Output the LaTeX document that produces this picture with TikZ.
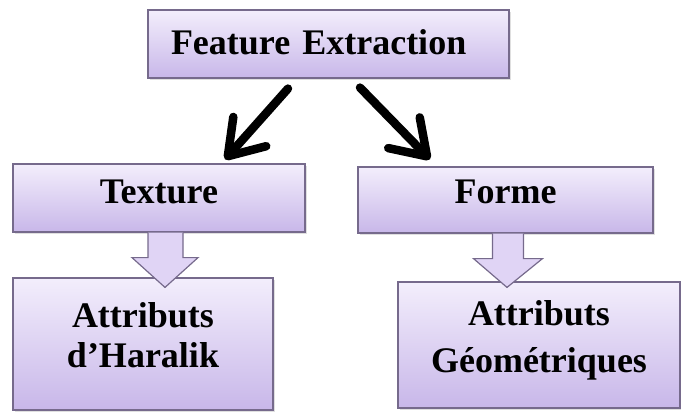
\documentclass[tikz,border=0pt]{standalone}
\usepackage{fontspec}
\setmainfont{Liberation Serif}
\usepackage{tikz}
\usetikzlibrary{arrows.meta,calc,shadows}
\definecolor{boxtop}{RGB}{243,238,252}
\definecolor{boxbottom}{RGB}{200,183,233}
\definecolor{boxline}{RGB}{118,106,140}
\definecolor{arrowfill}{RGB}{224,212,245}
\tikzstyle{box} = [rectangle, draw=boxline, line width=1.2pt, top color=boxtop, bottom color=boxbottom, inner sep=0pt, align=center, font=\bfseries\fontsize{36}{40}\selectfont, drop shadow={shadow xshift=1.5pt, shadow yshift=-2pt, opacity=0.25}]
\tikzstyle{bigarrow} = [black, line width=8.5pt, line cap=round, -{Straight Barb[round, length=33pt, width=44pt]}]
\tikzstyle{hollow} = [draw=boxline, line width=1.2pt, fill=arrowfill, line join=miter]

\begin{document}
\begin{tikzpicture}[x=1pt, y=-1pt]
\useasboundingbox (0,0) rectangle (681,412);

% boxes
\node[box, minimum width=361pt, minimum height=68pt, text width=315pt, align=left, text height=25pt, text depth=4pt] (feat) at (328.5,44) {Feature Extraction};
\node[box, minimum width=292pt, minimum height=68pt, text height=25pt, text depth=15pt] (texture) at (159,198) {Texture};
\node[box, minimum width=295pt, minimum height=66pt, text height=25pt, text depth=19pt] (forme) at (505.5,200) {Forme};
\node[box, minimum width=260pt, minimum height=132pt, text height=65pt, text depth=19pt] (haralik) at (143,344) {Attributs\\d'Haralik};
\node[box, minimum width=282pt, minimum height=126pt, text height=72pt, text depth=18pt] (geo) at (539,345) {Attributs\\[7pt]G\'eom\'etriques};

% black arrows from the top box
\draw[bigarrow] ($(feat.south)+(-40.5,10)$) -- ($(texture.north)+(66,-4)$);
\draw[bigarrow] ($(feat.south)+(31.5,9)$) -- ($(forme.north)+(-75.5,-7)$);

% hollow block arrows
\draw[hollow] ($(texture.south)+(-11,0)$) -- ++(0,25) -- ++(-16,0) -- ($(haralik.north)+(22,10)$) -- ($(texture.south)+(39,25)$) -- ++(-15,0) -- ++(0,-25);
\draw[hollow] ($(forme.south)+(-13,0)$) -- ++(0,25) -- ++(-19,0) -- ($(geo.north)+(-32,6)$) -- ($(forme.south)+(37,25)$) -- ++(-19,0) -- ++(0,-25);
\end{tikzpicture}
\end{document}
